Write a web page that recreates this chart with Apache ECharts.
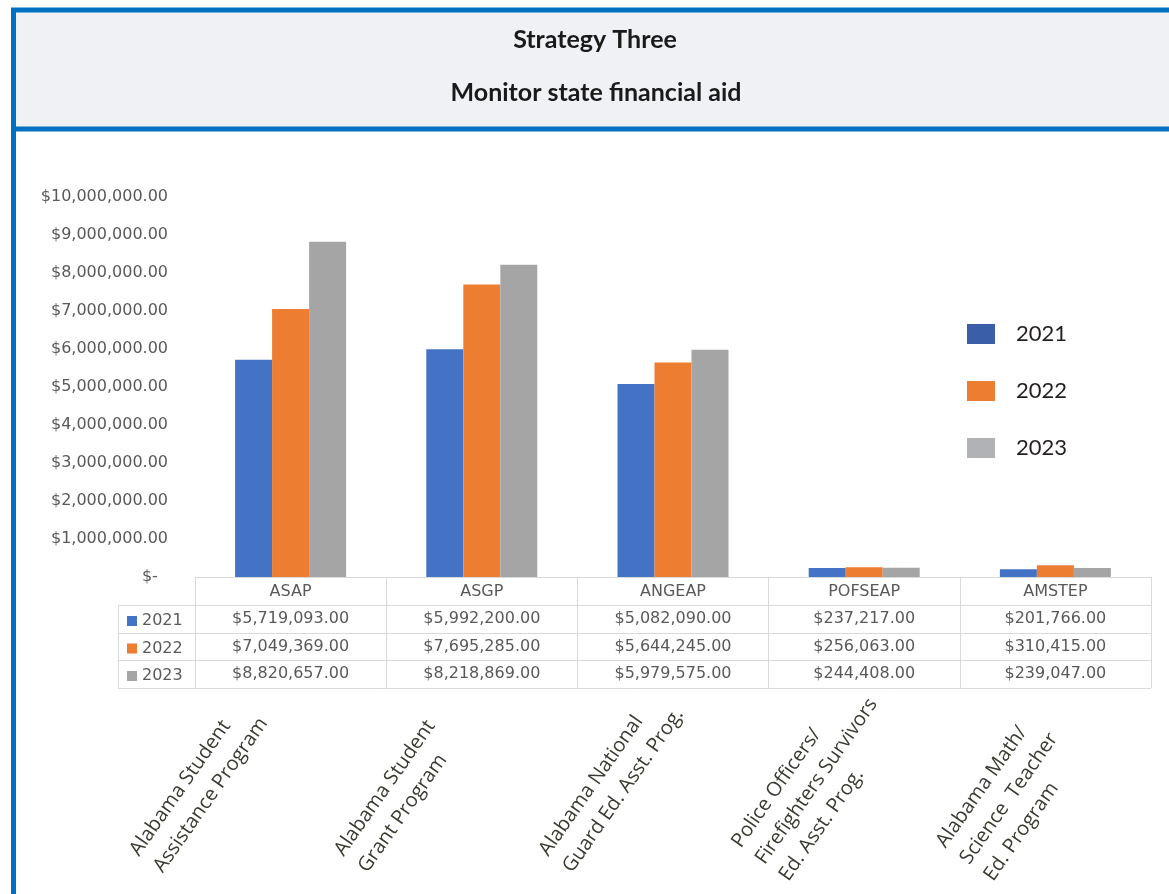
<!DOCTYPE html>
<html>
<head>
<meta charset="utf-8">
<script src="https://cdn.jsdelivr.net/npm/echarts@6/dist/echarts.min.js"></script>
<style>
  body { margin: 0; background: #fff; }
  #chart { width: 1169px; height: 894px; }
</style>
</head>
<body>
<div id="chart"></div>
<script>
// program codes and their long names
const categories = ['ASAP', 'ASGP', 'ANGEAP', 'POFSEAP', 'AMSTEP'];
const programNames = [
  'Alabama Student\nAssistance Program',
  'Alabama Student\nGrant Program',
  'Alabama National\nGuard Ed. Asst. Prog.',
  'Police Officers/\nFirefighters Survivors\nEd. Asst. Prog.',
  'Alabama Math/\nScience  Teacher\nEd. Program'
];
const years = ['2021', '2022', '2023'];
const aid2021 = [5719093, 5992200, 5082090, 237217, 201766];
const aid2022 = [7049369, 7695285, 5644245, 256063, 310415];
const aid2023 = [8820657, 8218869, 5979575, 244408, 239047];
const yMin = 0;
const yMax = 10000000;
const yStep = 1000000;

const barColors = ['#4472C4', '#ED7D31', '#A5A5A5'];
const legendColors = ['#3A5FA8', '#ED7D31', '#B1B2B6'];
const tableLine = '#d9d9d9';
const labelFont = 'DejaVu Sans';

function money(v) {
  if (v === 0) return '$-  ';
  return '$' + v.toLocaleString('en-US', { minimumFractionDigits: 2, maximumFractionDigits: 2 });
}

const chart = echarts.init(document.getElementById('chart'));

const allSeries = [aid2021, aid2022, aid2023];

const titleStyle = { fontFamily: 'Lato', fontWeight: 'bold', fontSize: 25, color: '#1a1a1a' };

const option = {
  backgroundColor: '#fff',
  animation: false,
  title: [
    { text: 'Strategy Three', left: 590, top: 22, textAlign: 'center', textStyle: titleStyle },
    { text: 'Monitor state financial aid', left: 591, top: 75, textAlign: 'center', textStyle: titleStyle }
  ],
  graphic: [
    { // header box
      type: 'rect', z: 0,
      shape: { x: 13.5, y: 10, width: 1200, height: 119 },
      style: { fill: '#F0F1F4', stroke: '#0070C0', lineWidth: 5 }
    },
    { // left border continues down
      type: 'rect', z: 0,
      shape: { x: 11, y: 129, width: 5, height: 770 },
      style: { fill: '#0070C0' }
    },
    // table row lines
    { type: 'line', shape: { x1: 118, y1: 605.5, x2: 1151, y2: 605.5 }, style: { stroke: tableLine, lineWidth: 1 } },
    { type: 'line', shape: { x1: 118, y1: 633.5, x2: 1151, y2: 633.5 }, style: { stroke: tableLine, lineWidth: 1 } },
    { type: 'line', shape: { x1: 118, y1: 660.5, x2: 1151, y2: 660.5 }, style: { stroke: tableLine, lineWidth: 1 } },
    { type: 'line', shape: { x1: 118, y1: 688.5, x2: 1151, y2: 688.5 }, style: { stroke: tableLine, lineWidth: 1 } },
    { type: 'line', shape: { x1: 118.5, y1: 605, x2: 118.5, y2: 689 }, style: { stroke: tableLine, lineWidth: 1 } }
  ],
  legend: [
    { // big legend on the right
      orient: 'vertical',
      left: 962, top: 318,
      itemWidth: 28, itemHeight: 20, itemGap: 35,
      icon: 'rect',
      selectedMode: false,
      data: years.map((y, i) => ({ name: y, itemStyle: { color: legendColors[i] } })),
      textStyle: { fontFamily: 'Lato', fontSize: 22, color: '#231f20', padding: [0, 0, 0, 16] }
    },
    { // legend keys inside the data table
      orient: 'vertical',
      left: 122, top: 608,
      itemWidth: 10, itemHeight: 10, itemGap: 11.5,
      icon: 'rect',
      selectedMode: false,
      data: years,
      textStyle: { fontFamily: labelFont, fontSize: 16, color: '#595959' }
    }
  ],
  grid: [
    { // bars + data table
      left: 195, right: 18, top: 197, bottom: 317,
      outerBoundsMode: 'none'
    },
    { // slanted program names under the table
      left: 44, right: 102, top: 197, bottom: 317,
      outerBoundsMode: 'none'
    }
  ],
  xAxis: [
    {
      type: 'category',
      gridIndex: 0,
      position: 'bottom',
      data: categories,
      axisLine: { lineStyle: { color: tableLine, width: 1 } },
      axisTick: { show: true, length: 111, interval: 0, lineStyle: { color: tableLine } },
      axisLabel: {
        interval: 0,
        margin: 1,
        fontFamily: labelFont,
        fontSize: 16,
        color: '#595959',
        lineHeight: 27.5,
        formatter: (v, i) => [v].concat(allSeries.map(s => money(s[i]))).join('\n')
      },
      splitLine: { show: false }
    },
    {
      type: 'category',
      gridIndex: 1,
      position: 'bottom',
      data: programNames,
      axisLine: { show: false },
      axisTick: { show: false },
      splitLine: { show: false },
      axisLabel: {
        interval: 0,
        rotate: 55,
        align: 'left',
        verticalAlign: 'middle',
        margin: 285,
        fontFamily: 'Open Sans',
        fontSize: 20,
        lineHeight: 29,
        color: '#3a3a30'
      }
    }
  ],
  yAxis: [
    {
      type: 'value',
      gridIndex: 0,
      min: yMin,
      max: yMax,
      interval: yStep,
      axisLine: { show: false },
      axisTick: { show: false },
      splitLine: { show: false },
      axisLabel: {
        margin: 27,
        fontFamily: labelFont,
        fontSize: 16,
        color: '#595959',
        formatter: money
      }
    },
    {
      type: 'value',
      gridIndex: 1,
      show: false
    }
  ],
  series: years.map((y, i) => ({
    name: y,
    type: 'bar',
    xAxisIndex: 0,
    yAxisIndex: 0,
    data: allSeries[i],
    barWidth: 37,
    barGap: '0%',
    itemStyle: { color: barColors[i] }
  }))
};

chart.setOption(option);
</script>
</body>
</html>
